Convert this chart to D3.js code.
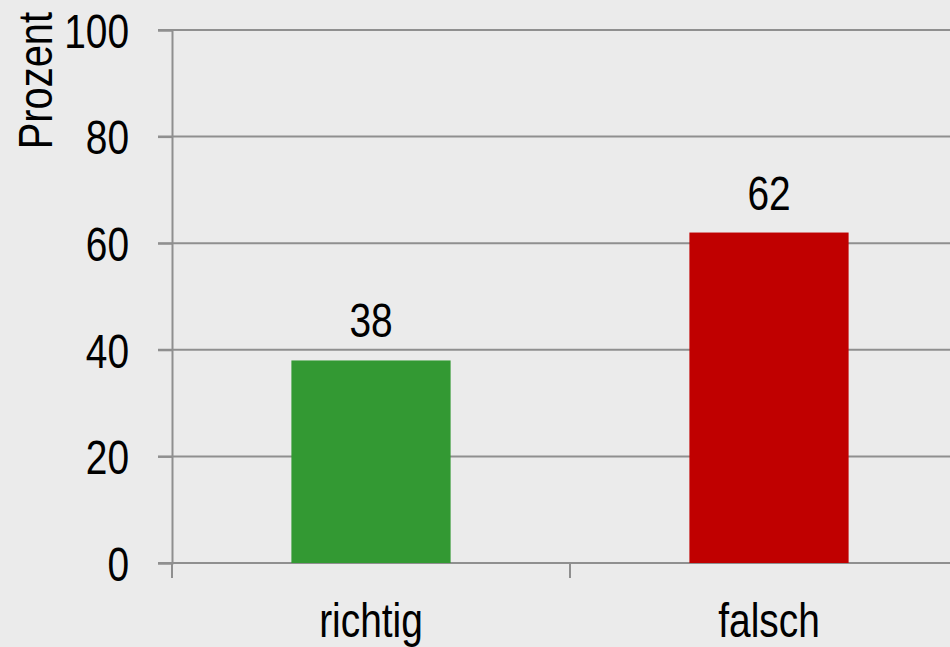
<!DOCTYPE html>
<html>
<head>
<meta charset="utf-8">
<script src="https://cdn.jsdelivr.net/npm/d3@7"></script>
<style>
	body { margin: 0; background: #ebebeb; }
	svg { display: block; }
	text { font-family: "Liberation Sans", Arial, sans-serif; fill: #000; }
</style>
</head>
<body>
<div id="chart"></div>
<script>
const categories = ["richtig", "falsch"];
const values = [38, 62];
const barColors = ["#339933", "#c00000"];
const yTicks = [0, 20, 40, 60, 80, 100];
const yLabel = "Prozent";

const fullWidth = 950, fullHeight = 647;
const margin = { top: 30, right: -18, bottom: 84, left: 172 };
const width = fullWidth - margin.left - margin.right;
const height = fullHeight - margin.top - margin.bottom;
const gridColor = "#8f8f8f";
const fontSize = 48;
// no narrow font installed, so squeeze the text horizontally
const squeeze = 0.81;

const svg = d3.select("#chart")
	.append("svg")
	.attr("width", fullWidth)
	.attr("height", fullHeight);

svg.append("rect")
	.attr("width", fullWidth)
	.attr("height", fullHeight)
	.attr("fill", "#ebebeb");

const g = svg.append("g")
	.attr("transform", "translate(" + margin.left + "," + margin.top + ")");

const x = d3.scaleBand()
	.domain(categories)
	.range([0, width])
	.paddingInner(0.6)
	.paddingOuter(0.3);

const y = d3.scaleLinear()
	.domain([0, 100])
	.range([height, 0]);

// narrow text placed at (px, py)
function narrowText(parent, px, py, anchor, str) {
	return parent.append("text")
		.attr("transform", "translate(" + px + "," + py + ") scale(" + squeeze + ",1)")
		.attr("text-anchor", anchor)
		.attr("font-size", fontSize)
		.text(str);
}

// gridlines
g.append("g")
	.selectAll("line")
	.data(yTicks.filter(t => t > 0))
	.enter()
	.append("line")
	.attr("x1", -14)
	.attr("x2", width)
	.attr("y1", d => y(d))
	.attr("y2", d => y(d))
	.attr("stroke", gridColor)
	.attr("stroke-width", 2);

// y axis
const yAxis = d3.axisLeft(y)
	.tickValues(yTicks)
	.tickSize(14)
	.tickPadding(30)
	.tickFormat(d3.format("d"));
const yAxisGroup = g.append("g").call(yAxis);
yAxisGroup.select(".domain").attr("stroke", gridColor).attr("stroke-width", 2);
yAxisGroup.selectAll(".tick line").attr("stroke", gridColor).attr("stroke-width", 2);
yAxisGroup.selectAll(".tick text")
	.attr("font-size", fontSize)
	.attr("font-family", "'Liberation Sans', Arial, sans-serif")
	.attr("x", -43 / squeeze)
	.attr("dy", "0.36em")
	.attr("transform", "scale(" + squeeze + ",1)");

// x axis baseline + ticks at band edges
const xAxisGroup = g.append("g").attr("transform", "translate(0," + height + ")");
xAxisGroup.append("line")
	.attr("x1", -14)
	.attr("x2", width)
	.attr("stroke", gridColor)
	.attr("stroke-width", 2);
const edges = categories.map(c => x(c) - x.step() * x.paddingOuter()).concat([width]);
xAxisGroup.selectAll("line.edge")
	.data(edges)
	.enter()
	.append("line")
	.classed("edge", true)
	.attr("x1", d => d)
	.attr("x2", d => d)
	.attr("y1", 0)
	.attr("y2", 15)
	.attr("stroke", gridColor)
	.attr("stroke-width", 2);

// bars
g.selectAll("rect.bar")
	.data(values)
	.enter()
	.append("rect")
	.classed("bar", true)
	.attr("x", (d, i) => x(categories[i]))
	.attr("y", d => y(d))
	.attr("width", x.bandwidth())
	.attr("height", d => height - y(d))
	.attr("fill", (d, i) => barColors[i]);

// value labels
values.forEach((v, i) => {
	narrowText(g, x(categories[i]) + x.bandwidth() / 2, y(v) - 23, "middle", v);
});

// category labels
categories.forEach(c => {
	narrowText(g, x(c) + x.bandwidth() / 2, height + 74, "middle", c);
});

// y label
svg.append("text")
	.attr("transform", "translate(52,12) rotate(-90) scale(" + (squeeze + 0.02) + ",1)")
	.attr("text-anchor", "end")
	.attr("font-size", fontSize)
	.text(yLabel);
</script>
</body>
</html>
